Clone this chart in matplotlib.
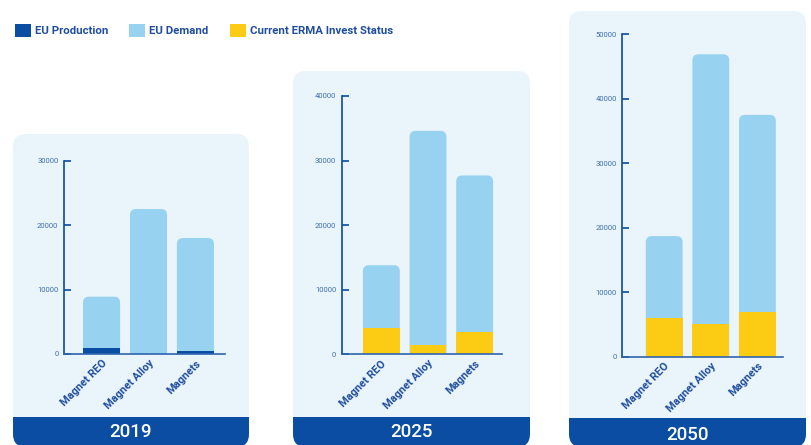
import matplotlib
matplotlib.use("Agg")
import matplotlib.pyplot as plt
from matplotlib.patches import FancyBboxPatch, Rectangle, Patch

# ---------------- data ----------------
categories = ["Magnet REO", "Magnet Alloy", "Magnets"]
years = ["2019", "2025", "2050"]
eu_demand_2019 = [8900, 22500, 18000]
eu_production_2019 = [1000, 0, 500]
eu_demand_2025 = [13800, 34600, 27700]
erma_2025 = [4000, 1500, 3500]
eu_demand_2050 = [18700, 46900, 37500]
erma_2050 = [6000, 5000, 7000]
y_max = [30000, 40000, 50000]
y_ticks = [[0, 10000, 20000, 30000],
           [0, 10000, 20000, 30000, 40000],
           [0, 10000, 20000, 30000, 40000, 50000]]
legend_labels = ["EU Production", "EU Demand", "Current ERMA Invest Status"]

# ---------------- style ----------------
DARK = "#0A4DA2"
LIGHT = "#97D3F0"
YELLOW = "#FCCB14"
PANEL = "#EAF4FB"
TXT = "#1F4E9E"
TICK = "#3F6EB3"
FONT = ["Roboto", "DejaVu Sans"]
plt.rcParams["font.family"] = FONT

W, H = 811, 445
fig = plt.figure(figsize=(W / 100, H / 100), dpi=100)
fig.patch.set_facecolor("white")

bg = fig.add_axes([0, 0, 1, 1], zorder=0)
bg.set_xlim(0, W)
bg.set_ylim(H, 0)
bg.axis("off")

# panel geometry in pixels: (left, right, top, bottom, banner_top, year_y)
panels = [(13, 249, 134, 447, 417, 432),
          (293, 530, 71, 447, 417, 432),
          (569, 806, 11, 447, 418, 435)]
# axes geometry in pixels: (left, right, top, bottom, xlim_left, xlim_right)
axes_geo = [(64, 225, 160.7, 354, -0.80, 2.63),
            (341.7, 501.7, 96, 354.3, -0.85, 2.58),
            (622.3, 783, 34.3, 356.7, -0.90, 2.55)]

demand = [eu_demand_2019, eu_demand_2025, eu_demand_2050]
overlay = [eu_production_2019, erma_2025, erma_2050]
overlay_color = [DARK, YELLOW, YELLOW]

for i in range(3):
    l, r, t, b, bt, yy = panels[i]
    p = FancyBboxPatch((l, t), r - l, b - t,
                       boxstyle="round,pad=0,rounding_size=13",
                       fc=PANEL, ec="none", zorder=1)
    bg.add_patch(p)
    ban = Rectangle((l, bt), r - l, b - bt + 10, fc=DARK, ec="none", zorder=2)
    bg.add_patch(ban)
    ban.set_clip_path(p)
    bg.text((l + r) / 2, yy, years[i], color="white", fontsize=13.5,
            ha="center", va="center", fontweight="medium", zorder=3)

    al, ar, at, ab, x0, x1 = axes_geo[i]
    ax = fig.add_axes([al / W, 1 - ab / H, (ar - al) / W, (ab - at) / H], zorder=2)
    ax.set_facecolor("none")
    ax.set_xlim(x0, x1)
    ax.set_ylim(0, y_max[i])
    x = list(range(len(categories)))
    bw = 0.79
    bars = ax.bar(x, demand[i], width=bw, color=LIGHT, zorder=2)
    # convert to rounded-top bars
    xpp = (x1 - x0) / (ar - al)
    ypp = y_max[i] / (ab - at)
    rad = 6
    for rect in bars:
        bx, by = rect.get_x(), rect.get_y()
        bwid, bh = rect.get_width(), rect.get_height()
        rect.remove()
        fp = FancyBboxPatch((bx, by - rad * ypp * 2), bwid, bh + rad * ypp * 2,
                            boxstyle=f"round,pad=0,rounding_size={rad * xpp}",
                            mutation_aspect=ypp / xpp,
                            fc=LIGHT, ec="none", zorder=2)
        ax.add_patch(fp)
    ax.bar(x, overlay[i], width=bw, color=overlay_color[i], zorder=3)

    for s in ["top", "right"]:
        ax.spines[s].set_visible(False)
    ax.spines["left"].set_color(DARK)
    ax.spines["left"].set_linewidth(1.2)
    ax.spines["bottom"].set_color("#2F64AE")
    ax.spines["bottom"].set_linewidth(1.2)
    ax.spines["bottom"].set_zorder(4)
    ax.set_yticks(y_ticks[i])
    ax.set_yticklabels([str(v) for v in y_ticks[i]])
    ax.tick_params(axis="y", direction="in", length=5, width=1.2,
                   color=DARK, labelsize=5.5, labelcolor=TICK, pad=4)
    ax.set_xticks(x)
    ax.set_xticklabels(categories, rotation=45, ha="right", va="top",
                       rotation_mode="anchor", fontsize=7.8,
                       fontweight="bold", color=TXT)
    ax.tick_params(axis="x", length=0, pad=3)

handles = [Patch(fc=DARK, ec="none"), Patch(fc=LIGHT, ec="none"),
           Patch(fc=YELLOW, ec="none")]
leg = fig.legend(handles, legend_labels, loc="upper left",
                 bbox_to_anchor=(15 / W, 1 - 24 / H), ncol=3, frameon=False,
                 fontsize=8.2, handlelength=1.4, handleheight=1.4,
                 handletextpad=0.35, columnspacing=1.85, borderaxespad=0,
                 borderpad=0)
for txt in leg.get_texts():
    txt.set_color(TXT)
    txt.set_fontweight("bold")

fig.savefig("out.png", dpi=100)
